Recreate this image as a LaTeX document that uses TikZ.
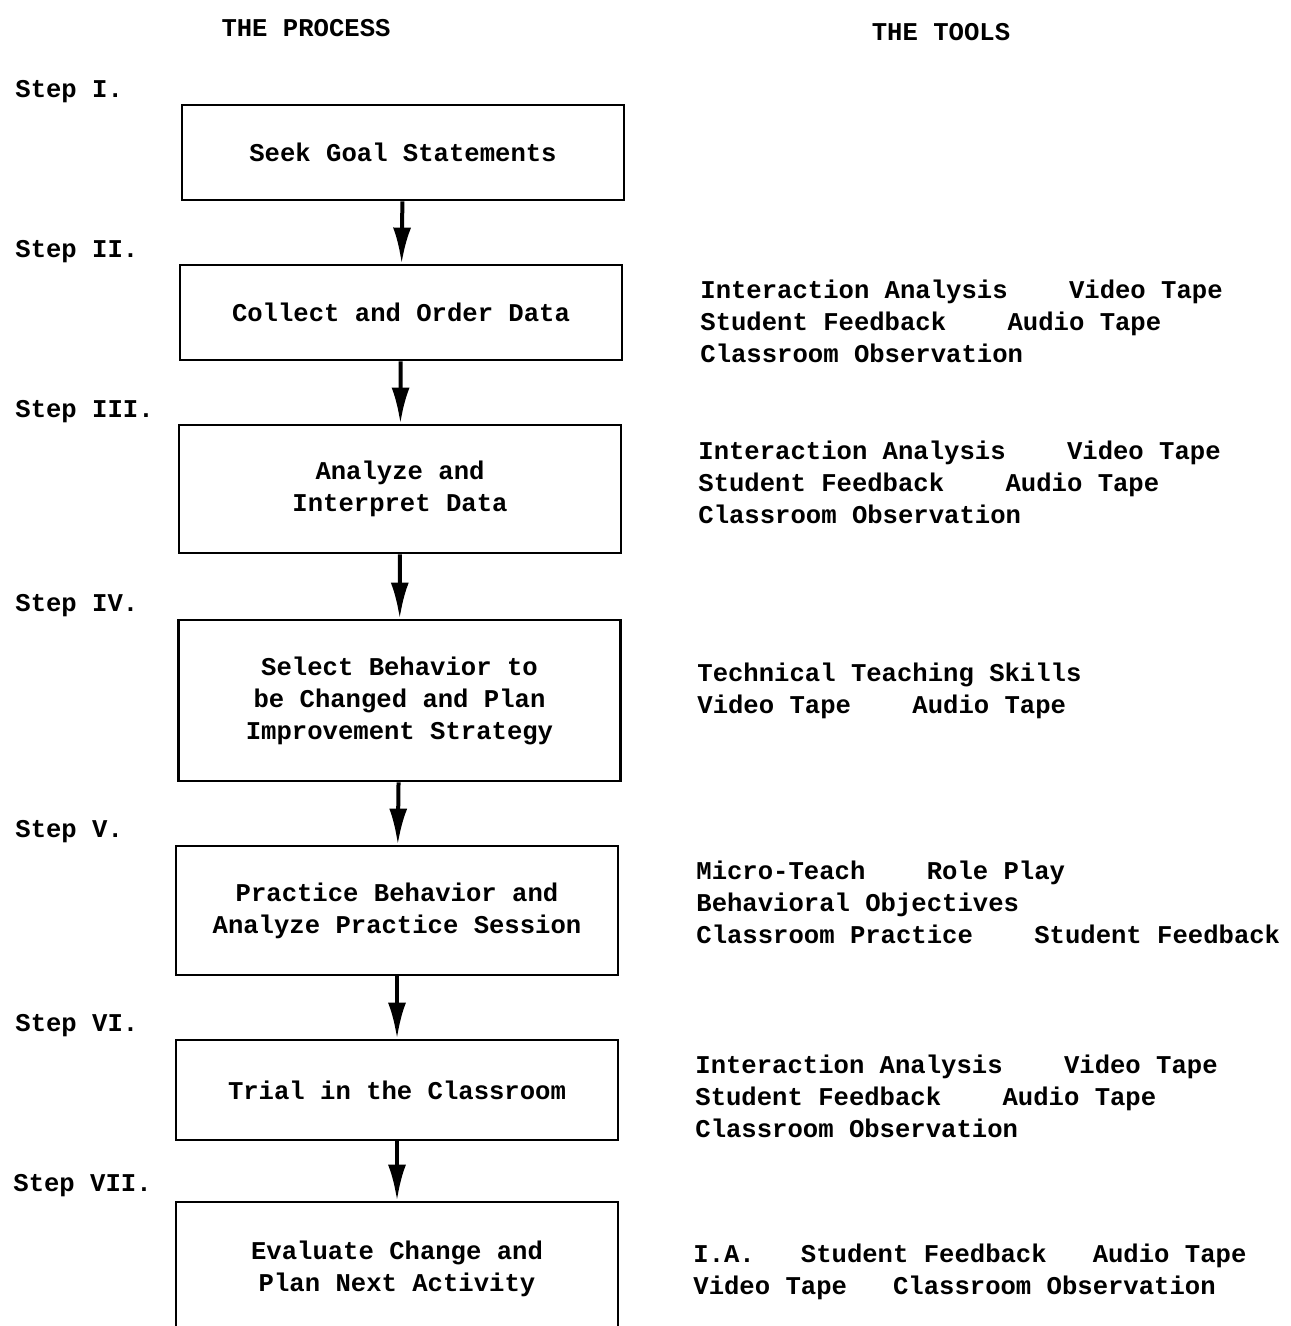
\documentclass[tikz,border=0pt]{standalone}
\usepackage{fontspec}
\setmonofont{Liberation Mono}
\usetikzlibrary{
  arrows.meta
}

\begin{document}
\begin{tikzpicture}[
    x=0.5pt, y=-0.5pt,
  every node/.style = {inner sep=0pt, align=center,
    font=\ttfamily\bfseries\fontsize{12.8}{16}\selectfont},
  procbox/.style = {draw, line width=1.4pt, minimum width=221pt},
  flow/.style = {line width=2pt, -{Latex[length=18pt,width=9pt]}}]
    \useasboundingbox (0,0) rectangle (1290,1326);
    % headings
    \node (HP) at (306,28) {THE PROCESS};
    \node (HT) at (941,32) {THE TOOLS};

    % step labels
    \node[anchor=west] (L1) at (15,92)   {Step I.};
    \node[anchor=west] (L2) at (15,252)  {Step II.};
    \node[anchor=west] (L3) at (15,412)  {Step III.};
    \node[anchor=west] (L4) at (15,606)  {Step IV.};
    \node[anchor=west] (L5) at (15,832)  {Step V.};
    \node[anchor=west] (L6) at (15,1026) {Step VI.};
    \node[anchor=west] (L7) at (13,1186) {Step VII.};

    % the process
    \node[procbox, minimum height=47.5pt] (S1) at (403,152.5) {Seek Goal Statements};
    \node[procbox, minimum height=47.5pt] (S2) at (401,312.5) {Collect and Order Data};
    \node[procbox, minimum height=64pt]   (S3) at (400,489)   {Analyze and\\Interpret Data};
    \node[procbox, minimum height=80.5pt] (S4) at (399.5,700.5)
        {Select Behavior to\\be Changed and Plan\\Improvement Strategy};
    \node[procbox, minimum height=64.5pt] (S5) at (397,910.5)
        {Practice Behavior and\\Analyze Practice Session};
    \node[procbox, minimum height=50pt]   (S6) at (397,1090)  {Trial in the Classroom};
    \node[procbox, minimum height=67pt]   (S7) at (397,1269)
        {Evaluate Change and\\Plan Next Activity};

    \draw[flow] (S1) -- (S2);
    \draw[flow] (S2) -- (S3);
    \draw[flow] (S3) -- (S4);
    \draw[flow] (S4) -- (S5);
    \draw[flow] (S5) -- (S6);
    \draw[flow] (S6) -- (S7);

    % the tools
    \begin{scope}[every node/.append style={anchor=west, align=left}]
    \node (T2) at (700,321)
        {Interaction Analysis~~~~Video Tape\\Student Feedback~~~~Audio Tape\\Classroom Observation};
    \node (T3) at (698,482)
        {Interaction Analysis~~~~Video Tape\\Student Feedback~~~~Audio Tape\\Classroom Observation};
    \node (T4) at (697,690.5)
        {Technical Teaching Skills\\Video Tape~~~~Audio Tape};
    \node (T5) at (696,902)
        {Micro-Teach~~~~Role Play\\Behavioral Objectives\\Classroom Practice~~~~Student Feedback};
    \node (T6) at (695,1096)
        {Interaction Analysis~~~~Video Tape\\Student Feedback~~~~Audio Tape\\Classroom Observation};
    \node (T7) at (693,1271.5)
        {I.A.~~~Student Feedback~~~Audio Tape\\Video Tape~~~Classroom Observation};
    \end{scope}
\end{tikzpicture}
\end{document}
